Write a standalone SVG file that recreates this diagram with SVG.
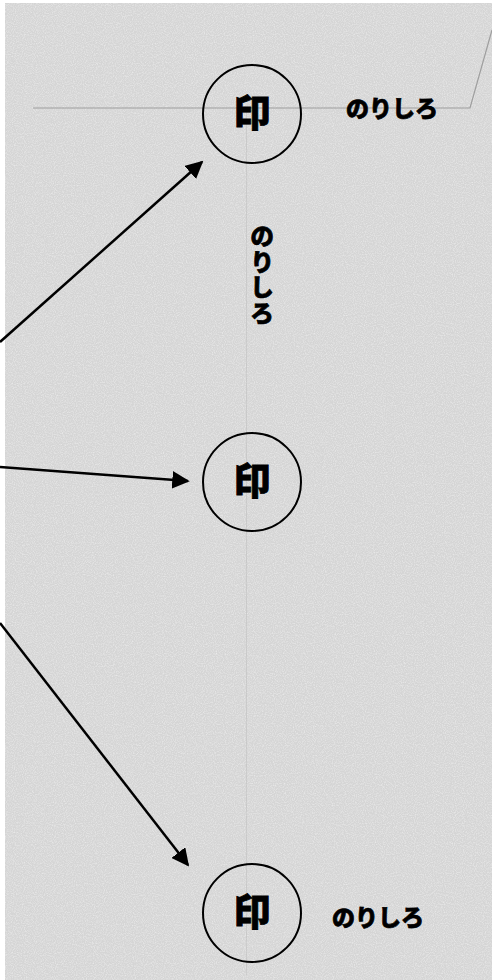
<svg xmlns="http://www.w3.org/2000/svg" width="492" height="980" viewBox="0 0 492 980">
<style>
.stamp{fill:none;stroke:#000;stroke-width:2}
.in{font-family:"Noto Sans CJK JP","Noto Sans CJK SC",sans-serif;font-weight:900;font-size:37px;fill:#000;stroke:#000;stroke-width:0.8;text-anchor:middle}
.lbl{font-family:"Noto Sans CJK JP","Noto Sans CJK SC",sans-serif;font-weight:900;font-size:23px;fill:#000;stroke:#000;stroke-width:0.7}
.vl{font-family:"Noto Sans CJK JP","Noto Sans CJK SC",sans-serif;font-weight:900;font-size:24px;fill:#000;stroke:#000;stroke-width:0.7;writing-mode:vertical-rl;letter-spacing:1.5px}
.arrow{stroke:#000;stroke-width:2.5;fill:none;marker-end:url(#ah)}
</style>
<defs>
<marker id="ah" viewBox="0 0 10 10" refX="9" refY="5" markerWidth="7" markerHeight="7" markerUnits="strokeWidth" orient="auto">
<path d="M0,0 L10,5 L0,10 z" fill="#000"/>
</marker>
<filter id="grain" x="0" y="0" width="100%" height="100%">
<feTurbulence type="fractalNoise" baseFrequency="0.9" numOctaves="2" seed="3" result="n"/>
<feColorMatrix type="matrix" values="0 0 0 0 1  0 0 0 0 1  0 0 0 0 1  0 0 0 0.9 -0.35"/>
</filter>
</defs>
<g id="background">
<rect x="0" y="0" width="492" height="980" fill="#ffffff"/>
<rect x="5" y="3" width="487" height="977" fill="#d5d5d5"/>
<rect x="5" y="3" width="487" height="977" filter="url(#grain)"/>
<path d="M33,108 L470,108 L492,30" fill="none" stroke="#9e9e9e" stroke-width="1.2"/>
<line x1="246.5" y1="112" x2="246.5" y2="975" stroke="#b5b5b5" stroke-width="1" opacity="0.4"/>
</g>
<g id="connectors">
<line class="arrow" x1="0" y1="342" x2="202" y2="162"/>
<line class="arrow" x1="0" y1="467" x2="188" y2="481"/>
<line class="arrow" x1="0" y1="623" x2="188" y2="865"/>
</g>
<g id="stamp-top">
<circle class="stamp" cx="252" cy="114" r="49"/>
<text class="in" x="252" y="127">印</text>
</g>
<g id="label-top">
<text class="lbl" x="346" y="117">のりしろ</text>
</g>
<g id="label-vertical">
<text class="vl" x="262" y="224">のりしろ</text>
</g>
<g id="stamp-middle">
<circle class="stamp" cx="252" cy="482" r="49"/>
<text class="in" x="252" y="495">印</text>
</g>
<g id="stamp-bottom">
<circle class="stamp" cx="252" cy="913" r="49"/>
<text class="in" x="252" y="926">印</text>
</g>
<g id="label-bottom">
<text class="lbl" x="332" y="926">のりしろ</text>
</g>
</svg>
